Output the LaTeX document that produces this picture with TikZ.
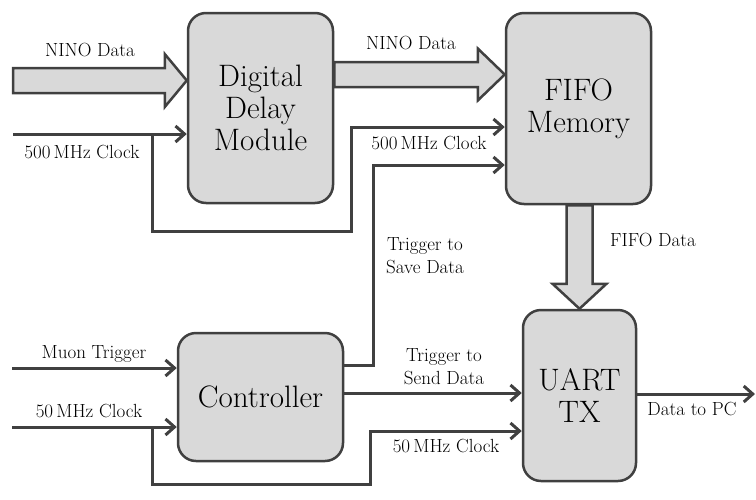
\documentclass[tikz,border=0pt]{standalone}
\usetikzlibrary{arrows.meta,calc}
\definecolor{edgec}{HTML}{404040}
\definecolor{boxc}{HTML}{D9D9D9}
\begin{document}
\begin{tikzpicture}[x=1pt,y=-1pt,
  block/.style={draw=edgec,fill=boxc,line width=2.5pt,rounded corners=18pt,inner sep=0pt,
     align=center,font=\fontsize{31}{32}\selectfont},
  sig/.style={draw=edgec,line width=3pt,-{Straight Barb[length=9pt,width=16pt]}},
  wire/.style={draw=edgec,line width=3pt},
  fat/.style={draw=edgec,fill=boxc,line width=2.5pt,line join=miter},
  lbl/.style={font=\fontsize{19}{23}\selectfont,align=center,inner sep=0pt}]
\useasboundingbox (0,0) rectangle (756,499);
% blocks
\node[block,minimum width=145pt,minimum height=190pt] (ddm) at (260.5,108) {Digital\\Delay\\Module};
\node[block,minimum width=145pt,minimum height=191pt] (fifo) at (578.5,108.5) {FIFO\\Memory};
\node[block,minimum width=165pt,minimum height=128pt] (ctrl) at (260.5,397) {Controller};
\node[block,minimum width=113pt,minimum height=171pt] (uart) at (579.5,395.5) {UART\\TX};
% fat arrows
\coordinate (a1) at (13,80.5);
\coordinate (t1) at (ddm.west |- a1);
\draw[fat] ($(a1)+(0,-12.5)$) -- ($(t1)+(-22,-12.5)$) -- ($(t1)+(-22,-26.5)$) -- (t1)
  -- ($(t1)+(-22,26.5)$) -- ($(t1)+(-22,12.5)$) -- ($(a1)+(0,12.5)$) -- cycle;
\coordinate (a2) at (ddm.east |- 0,74.5);
\coordinate (t2) at (fifo.west |- a2);
\draw[fat] ($(a2)+(0,-12.5)$) -- ($(t2)+(-27,-12.5)$) -- ($(t2)+(-27,-26)$) -- (t2)
  -- ($(t2)+(-27,26)$) -- ($(t2)+(-27,12.5)$) -- ($(a2)+(0,12.5)$) -- cycle;
\coordinate (t3) at (uart.north);
\coordinate (a3) at (t3 |- fifo.south);
\draw[fat] ($(a3)+(-13,0)$) -- ($(t3)+(-13,-25)$) -- ($(t3)+(-27,-25)$) -- (t3)
  -- ($(t3)+(27,-25)$) -- ($(t3)+(13,-25)$) -- ($(a3)+(13,0)$) -- cycle;
% thin signals
\coordinate (c500) at (13,134);
\coordinate (j1) at (152,134);
\draw[sig] (c500) -- (ddm.west |- c500);
\draw[sig] (j1) |- (351,231) |- (fifo.west |- 0,127);
\coordinate (ts) at (ctrl.east |- 0,365);
\draw[sig] (ts) -| (373,165) -- (fifo.west |- 0,165);
\coordinate (mu) at (12,368);
\draw[sig] (mu) -- (ctrl.west |- mu);
\coordinate (c50) at (12,427);
\coordinate (j2) at (152,427);
\draw[sig] (c50) -- (ctrl.west |- c50);
\draw[sig] (j2) |- (370,484) |- (uart.west |- 0,431);
\coordinate (sd) at (ctrl.east |- 0,393);
\draw[sig] (sd) -- (uart.west |- sd);
\coordinate (pc) at (755,394);
\draw[sig] (uart.east |- pc) -- (pc);
% labels
\node[lbl] at (90,50) {NINO Data};
\node[lbl] at (82,152) {500\,MHz Clock};
\node[lbl] at (411,43) {NINO Data};
\node[lbl] at (429,143) {500\,MHz Clock};
\node[lbl] at (653,240) {FIFO Data};
\node[lbl] at (425,256) {Trigger to\\Save Data};
\node[lbl] at (94,354) {Muon Trigger};
\node[lbl] at (89,411) {50\,MHz Clock};
\node[lbl] at (444,367) {Trigger to\\Send Data};
\node[lbl] at (446,446) {50\,MHz Clock};
\node[lbl] at (692,409) {Data to PC};
\end{tikzpicture}
\end{document}
